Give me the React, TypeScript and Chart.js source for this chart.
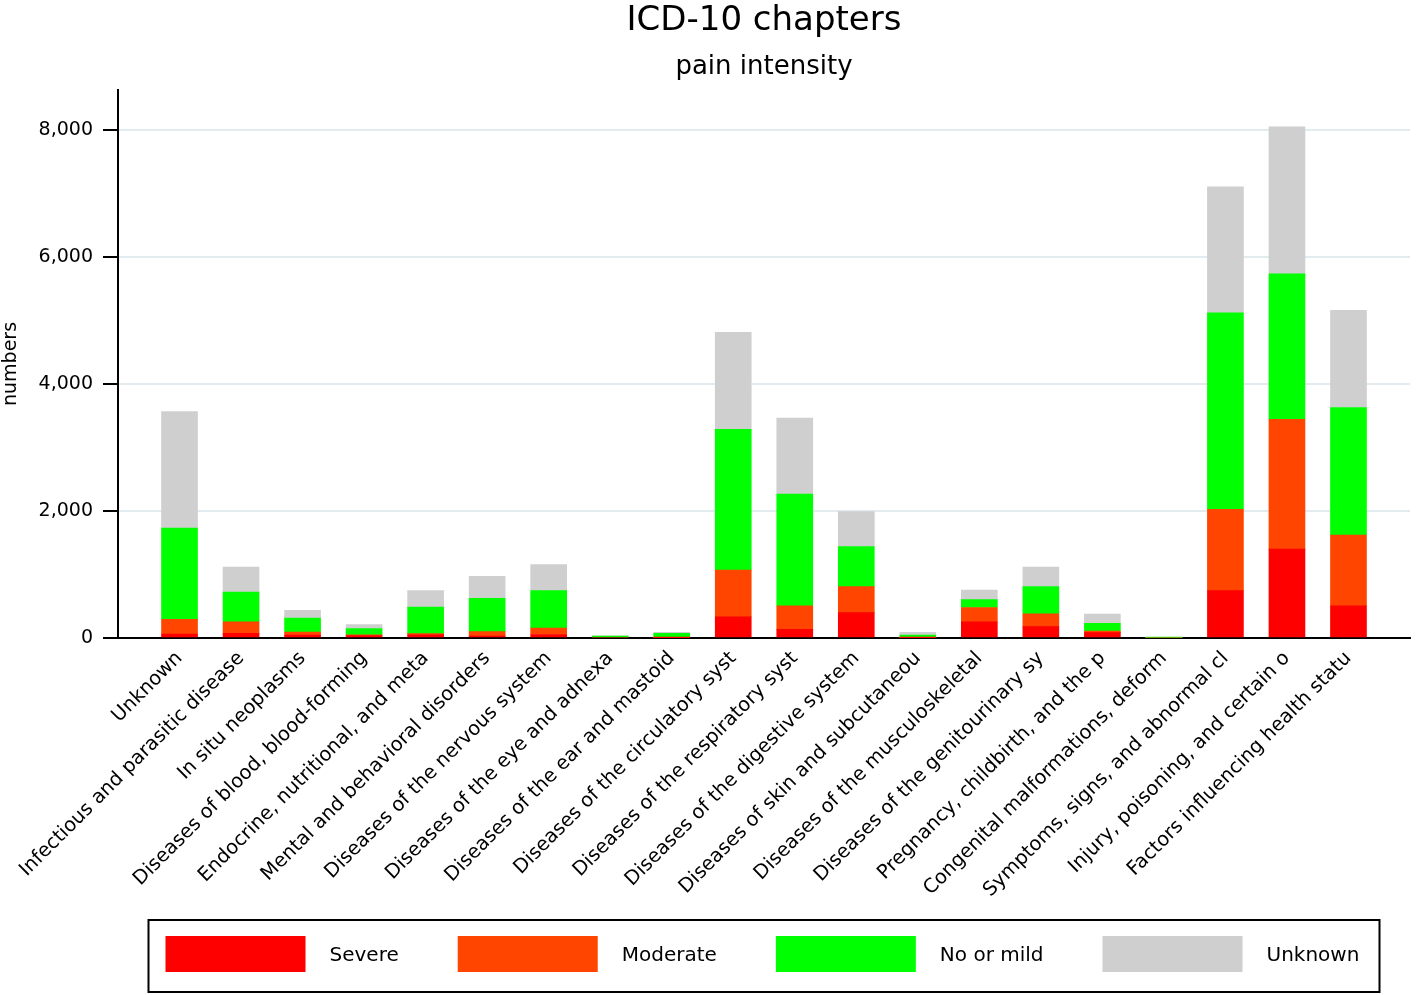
import React, { useEffect, useRef } from "react";
import { Chart, registerables } from "chart.js";

Chart.register(...registerables);

const categories = [
  "Unknown",
  "Infectious and parasitic disease",
  "In situ neoplasms",
  "Diseases of blood, blood-forming",
  "Endocrine, nutritional, and meta",
  "Mental and behavioral disorders",
  "Diseases of the nervous system",
  "Diseases of the eye and adnexa",
  "Diseases of the ear and mastoid",
  "Diseases of the circulatory syst",
  "Diseases of the respiratory syst",
  "Diseases of the digestive system",
  "Diseases of skin and subcutaneou",
  "Diseases of the musculoskeletal",
  "Diseases of the genitourinary sy",
  "Pregnancy, childbirth, and the p",
  "Congenital malformations, deform",
  "Symptoms, signs, and abnormal cl",
  "Injury, poisoning, and certain o",
  "Factors influencing health statu",
];

const severe = [60, 75, 45, 40, 50, 30, 55, 0, 5, 335, 135, 400, 5, 255, 180, 85, 0, 745, 1400, 505];
const moderate = [235, 180, 50, 10, 20, 70, 100, 0, 5, 735, 370, 410, 5, 225, 200, 25, 0, 1280, 2045, 1115];
const noOrMild = [1435, 470, 220, 100, 415, 525, 590, 30, 65, 2215, 1760, 630, 37, 125, 430, 120, 5, 3095, 2290, 2010];
const unknown = [1835, 390, 120, 60, 260, 345, 410, 5, 15, 1530, 1200, 550, 43, 150, 305, 145, 5, 1985, 2315, 1530];

const seriesNames = ["Severe", "Moderate", "No or mild", "Unknown"];
const seriesColors = ["#ff0000", "#ff4500", "#00ff00", "#cfcfcf"];
const yTicks = [0, 2000, 4000, 6000, 8000];
const yMax = 8630;

const titleText = "ICD-10 chapters";
const subtitleText = "pain intensity";
const yAxisTitle = "numbers";

const FONT = "'DejaVu Sans', 'Liberation Sans', sans-serif";

export default function App() {
  const ref = useRef<HTMLCanvasElement>(null);

  useEffect(() => {
    document.body.style.margin = "0";
    const canvas = ref.current;
    if (!canvas) return;

    const seriesData = [severe, moderate, noOrMild, unknown];
    const pad = (a: number[]) => [null, ...a, null];
    const labels = ["", ...categories, ""];

    const titlePlugin = {
      id: "customTitles",
      afterDraw(chart: any) {
        const { ctx, chartArea } = chart;
        const cx = (chartArea.left + chartArea.right) / 2;
        ctx.save();
        ctx.fillStyle = "#000";
        ctx.textAlign = "center";
        ctx.textBaseline = "middle";
        ctx.font = `34px ${FONT}`;
        ctx.fillText(titleText, cx, 21);
        ctx.font = `26px ${FONT}`;
        ctx.fillText(subtitleText, cx, 67);
        ctx.restore();
      },
    };

    const legendPlugin = {
      id: "boxedLegend",
      afterDraw(chart: any) {
        const { ctx, chartArea } = chart;
        const cx = (chartArea.left + chartArea.right) / 2;
        const w = 1231;
        const h = 72;
        const left = cx - w / 2;
        const top = chart.height - 75;
        ctx.save();
        ctx.strokeStyle = "#000";
        ctx.lineWidth = 2;
        ctx.strokeRect(left, top, w, h);
        ctx.font = `20px ${FONT}`;
        ctx.textBaseline = "middle";
        ctx.textAlign = "left";
        let x = left + 17;
        chart.data.datasets.forEach((ds: any) => {
          ctx.fillStyle = ds.backgroundColor;
          ctx.fillRect(x, top + 16, 140, 36);
          ctx.fillStyle = "#000";
          ctx.fillText(ds.label, x + 164, top + 36);
          const tw = ctx.measureText(ds.label).width;
          x += 164 + tw + 59;
        });
        ctx.restore();
      },
    };

    const chart = new Chart(canvas, {
      type: "bar",
      data: {
        labels,
        datasets: seriesNames.map((name, i) => ({
          label: name,
          data: pad(seriesData[i]),
          backgroundColor: seriesColors[i],
          borderWidth: 0,
          barThickness: 36,
        })),
      },
      options: {
        responsive: false,
        animation: false,
        layout: { padding: { top: 90, right: 8, left: 0, bottom: 0 } },
        plugins: {
          legend: { display: false },
          title: { display: false },
          tooltip: { enabled: false },
        },
        scales: {
          x: {
            stacked: true,
            offset: false,
            grid: { display: true, drawOnChartArea: false, drawTicks: false },
            border: { display: true, color: "#000", width: 2 },
            ticks: {
              autoSkip: false,
              minRotation: 45,
              maxRotation: 45,
              padding: 9,
              color: "#000",
              font: { family: FONT, size: 19.5 },
            },
            afterFit: (s: any) => {
              s.height = 357;
              s.paddingLeft = 0;
              s.paddingRight = 0;
            },
          },
          y: {
            stacked: true,
            min: 0,
            max: yMax,
            afterBuildTicks: (s: any) => {
              s.ticks = yTicks.map((v) => ({ value: v }));
            },
            ticks: {
              color: "#000",
              padding: 10,
              font: { family: FONT, size: 19 },
              callback: (v: any) => Number(v).toLocaleString("en-US"),
            },
            grid: {
              color: "#e2ebf0",
              lineWidth: 2,
              tickColor: "#000",
              tickLength: 15,
              drawTicks: true,
            },
            border: { color: "#000", width: 2 },
            title: {
              display: true,
              text: yAxisTitle,
              color: "#000",
              font: { family: FONT, size: 19 },
              padding: 0,
            },
            afterFit: (s: any) => {
              s.width = 118;
              s.paddingTop = 0;
              s.paddingBottom = 0;
            },
          },
        },
      },
      plugins: [titlePlugin, legendPlugin],
    } as any);

    return () => chart.destroy();
  }, []);

  return <canvas ref={ref} width={1418} height={995} style={{ display: "block" }} />;
}
